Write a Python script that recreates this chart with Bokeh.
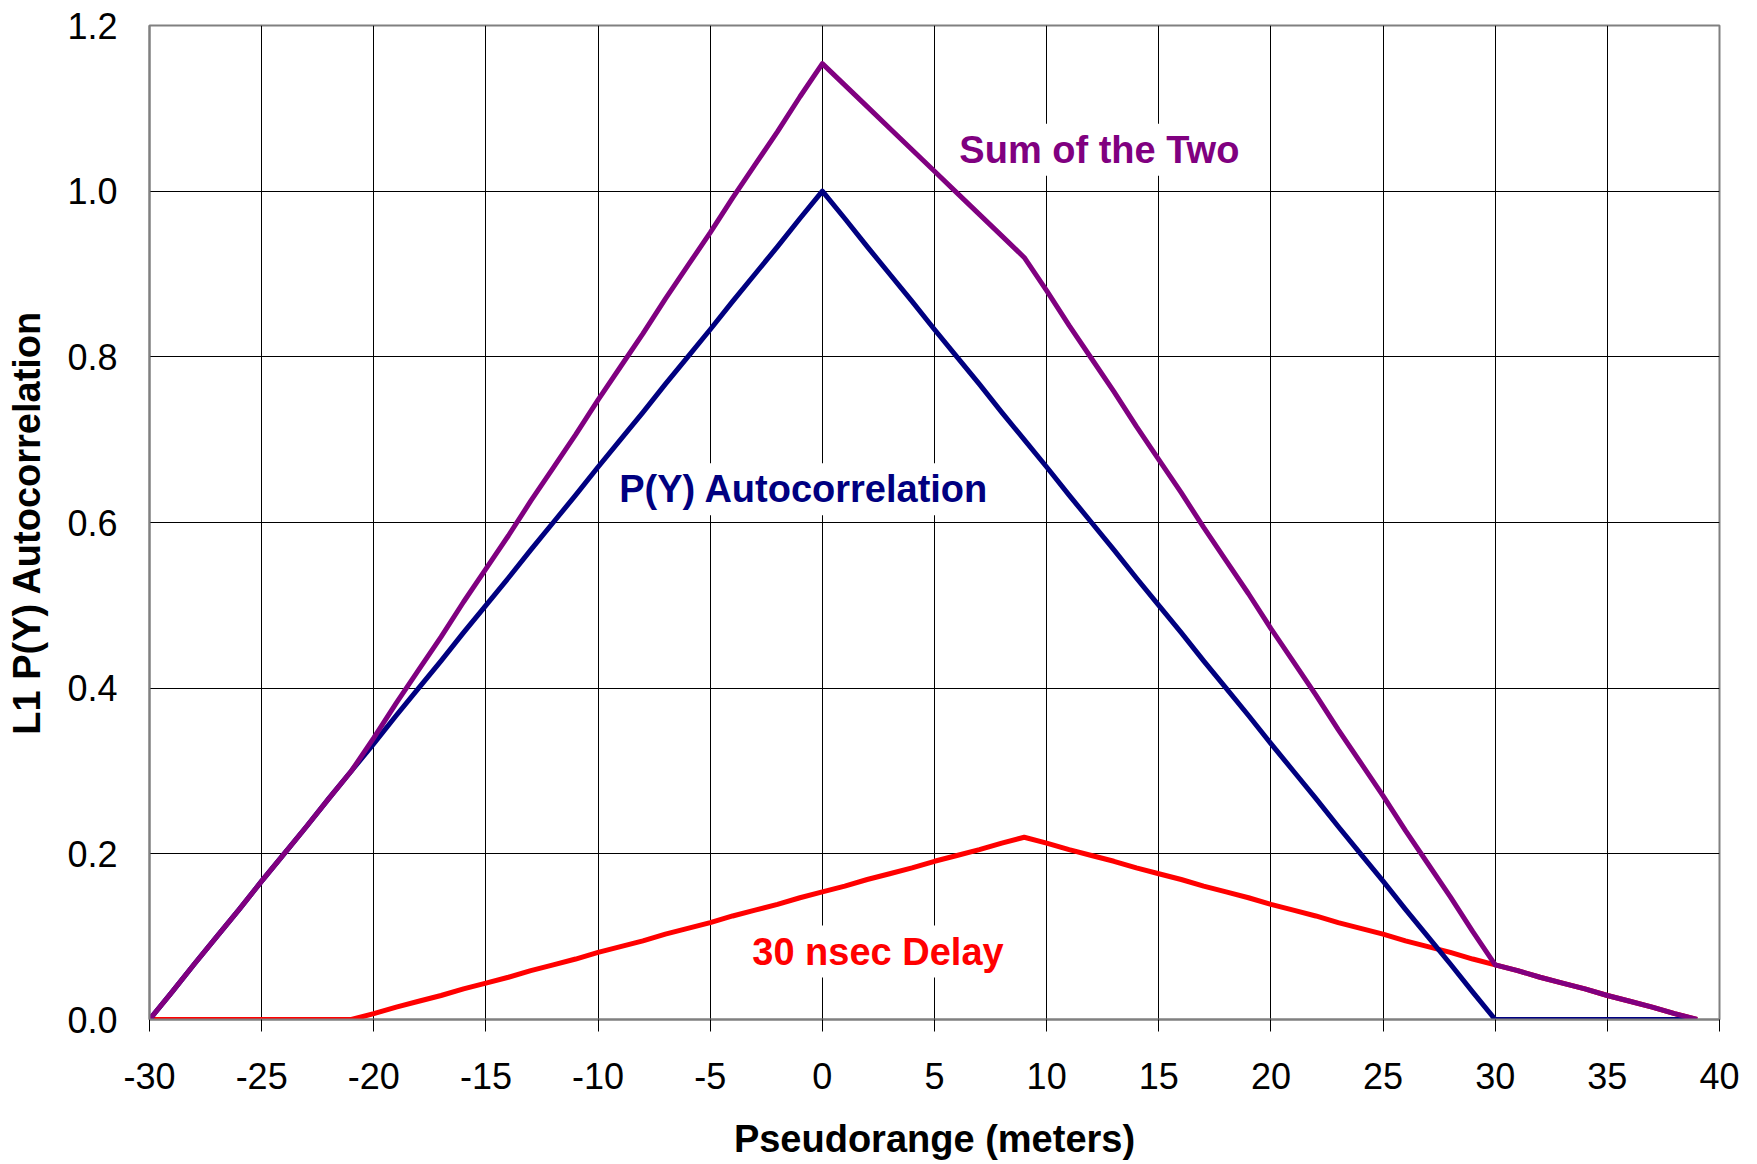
from bokeh.plotting import figure
from bokeh.models import Range1d, FixedTicker, Label, PrintfTickFormatter
from bokeh.embed import file_html
from bokeh.resources import INLINE

# Pseudorange (meters)
x_m = [-30, -29, -28, -27, -26, -25, -24, -23, -22, -21, -20, -19, -18, -17, -16,
       -15, -14, -13, -12, -11, -10, -9, -8, -7, -6, -5, -4, -3, -2, -1, 0,
       1, 2, 3, 4, 5, 6, 7, 8, 9, 10, 11, 12, 13, 14, 15, 16, 17, 18, 19, 20,
       21, 22, 23, 24, 25, 26, 27, 28, 29, 30, 31, 32, 33, 34, 35, 36, 37, 38, 39]

py_autocorr = [0.000, 0.033, 0.067, 0.100, 0.133, 0.167, 0.200, 0.233, 0.267, 0.300,
               0.333, 0.367, 0.400, 0.433, 0.467, 0.500, 0.533, 0.567, 0.600, 0.633,
               0.667, 0.700, 0.733, 0.767, 0.800, 0.833, 0.867, 0.900, 0.933, 0.967,
               1.000, 0.967, 0.933, 0.900, 0.867, 0.833, 0.800, 0.767, 0.733, 0.700,
               0.667, 0.633, 0.600, 0.567, 0.533, 0.500, 0.467, 0.433, 0.400, 0.367,
               0.333, 0.300, 0.267, 0.233, 0.200, 0.167, 0.133, 0.100, 0.067, 0.033,
               0.000, 0.000, 0.000, 0.000, 0.000, 0.000, 0.000, 0.000, 0.000, 0.000]

delay_30ns = [0.000, 0.000, 0.000, 0.000, 0.000, 0.000, 0.000, 0.000, 0.000, 0.000,
              0.007, 0.015, 0.022, 0.029, 0.037, 0.044, 0.051, 0.059, 0.066, 0.073,
              0.081, 0.088, 0.095, 0.103, 0.110, 0.117, 0.125, 0.132, 0.139, 0.147,
              0.154, 0.161, 0.169, 0.176, 0.183, 0.191, 0.198, 0.205, 0.213, 0.220,
              0.213, 0.205, 0.198, 0.191, 0.183, 0.176, 0.169, 0.161, 0.154, 0.147,
              0.139, 0.132, 0.125, 0.117, 0.110, 0.103, 0.095, 0.088, 0.081, 0.073,
              0.066, 0.059, 0.051, 0.044, 0.037, 0.029, 0.022, 0.015, 0.007, 0.000]

sum_two = [0.000, 0.033, 0.067, 0.100, 0.133, 0.167, 0.200, 0.233, 0.267, 0.300,
           0.340, 0.382, 0.422, 0.462, 0.504, 0.544, 0.584, 0.626, 0.666, 0.706,
           0.748, 0.788, 0.828, 0.870, 0.910, 0.950, 0.992, 1.032, 1.072, 1.114,
           1.154, 1.128, 1.102, 1.076, 1.050, 1.024, 0.998, 0.972, 0.946, 0.920,
           0.880, 0.838, 0.798, 0.758, 0.716, 0.676, 0.636, 0.594, 0.554, 0.514,
           0.472, 0.432, 0.392, 0.350, 0.310, 0.270, 0.228, 0.188, 0.148, 0.106,
           0.066, 0.059, 0.051, 0.044, 0.037, 0.029, 0.022, 0.015, 0.007, 0.000]

x_ticks = [-30, -25, -20, -15, -10, -5, 0, 5, 10, 15, 20, 25, 30, 35, 40]
y_ticks = [0.0, 0.2, 0.4, 0.6, 0.8, 1.0, 1.2]

FONT = "Liberation Sans"

p = figure(width=1741, height=1162, output_backend="svg", toolbar_location=None,
           x_range=Range1d(-30, 40), y_range=Range1d(0, 1.2),
           min_border_left=149, min_border_right=22, min_border_top=25,
           min_border_bottom=141)

p.outline_line_color = "#808080"
p.outline_line_width = 2
p.background_fill_color = "white"
p.border_fill_color = "white"

p.xaxis.ticker = FixedTicker(ticks=x_ticks)
p.yaxis.ticker = FixedTicker(ticks=y_ticks)
p.yaxis.formatter = PrintfTickFormatter(format="%.1f")
p.xaxis.formatter = PrintfTickFormatter(format="%d")

for ax in (p.xaxis[0], p.yaxis[0]):
    ax.major_label_text_font = FONT
    ax.major_label_text_font_size = "36px"
    ax.major_label_text_color = "black"
    ax.axis_label_text_font = FONT
    ax.axis_label_text_font_size = "38px"
    ax.axis_label_text_font_style = "bold"
    ax.axis_label_text_color = "black"
    ax.minor_tick_line_color = None
    ax.axis_line_color = "#808080"
    ax.axis_line_width = 2

p.xaxis.axis_label = "Pseudorange (meters)"
p.yaxis.axis_label = "L1 P(Y) Autocorrelation"

p.xaxis.major_tick_out = 12
p.xaxis.major_tick_in = 0
p.xaxis.major_tick_line_color = "black"
p.xaxis.major_label_standoff = 31
p.xaxis.axis_label_standoff = 26

p.yaxis.major_tick_out = 0
p.yaxis.major_tick_in = 0
p.yaxis.major_label_standoff = 32
p.yaxis.axis_label_standoff = 16

p.xgrid.grid_line_color = "black"
p.ygrid.grid_line_color = "black"
p.xgrid.grid_line_width = 1
p.ygrid.grid_line_width = 1

p.line(x_m, delay_30ns, line_color="#FF0000", line_width=5, line_join="round")
p.line(x_m, py_autocorr, line_color="#000080", line_width=5, line_join="round")
p.line(x_m, sum_two, line_color="#800080", line_width=5, line_join="round")

labels = [
    ("Sum of the Two", 12.35, 1.050, "#800080"),
    ("P(Y) Autocorrelation", -0.82, 0.640, "#000080"),
    ("30 nsec Delay", 2.48, 0.082, "#FF0000"),
]
for txt, lx, ly, col in labels:
    p.add_layout(Label(x=lx, y=ly, text=txt, text_color=col, text_font=FONT,
                       text_font_size="38px", text_font_style="bold",
                       text_align="center", text_baseline="middle",
                       background_fill_color="white", padding=5))

open("out.html", "w").write(file_html(p, INLINE))
